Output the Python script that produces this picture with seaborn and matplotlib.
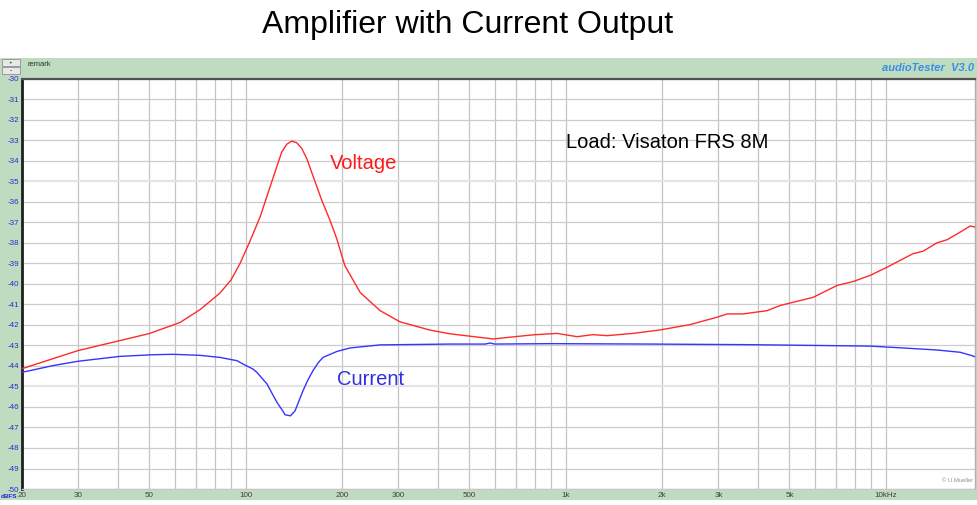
import numpy as np
import pandas as pd
import matplotlib
matplotlib.use("Agg")
import matplotlib.pyplot as plt
from matplotlib.patches import Rectangle
import seaborn as sns

# ---- data ----
volt_freq = [20, 29.9, 49.9, 62.3, 72, 83, 90, 96, 103.2, 110.9, 119.1, 125, 129.6, 134.4, 139.3,
             144.4, 149.7, 155.2, 162.7, 172.9, 183.4, 192.5, 204, 228, 263, 304, 377, 435,
             593, 790, 939, 1085, 1217, 1346, 1622,
             1972, 2447, 2972, 3194, 3582, 4257, 4674, 5930, 7046, 7906, 8934, 10094,
             12168, 13084, 14456, 15552, 17078, 18351, 19012]
volt_db = [-44.13, -43.25, -42.42, -41.88, -41.25, -40.45, -39.8, -39.0, -37.9, -36.73, -35.27,
           -34.29, -33.56, -33.18, -33.03, -33.11, -33.39, -33.88, -34.78, -35.92, -36.89,
           -37.79, -39.10, -40.42, -41.30, -41.85, -42.25, -42.43,
           -42.68, -42.48, -42.41, -42.57, -42.47, -42.52, -42.41, -42.24,
           -41.98, -41.62, -41.46, -41.46, -41.30, -41.05, -40.65, -40.07, -39.88, -39.58,
           -39.18, -38.52, -38.40, -37.99, -37.84, -37.47, -37.17, -37.22]

curr_freq = [20, 25, 29.9, 40.5, 51.3, 59.3, 72, 83, 93.9, 98, 105.4, 108.4, 116.6, 121,
             125.3, 129.9, 132.7, 138, 142.6, 151, 156, 162.2, 168.5, 174.4, 192.8, 211.8,
             263, 435, 560, 580, 600, 893, 1834, 3768, 6235, 8934, 11326, 14456, 17078,
             18613, 19012]
curr_db = [-44.31, -43.98, -43.77, -43.53, -43.45, -43.43, -43.48, -43.58, -43.74, -43.90,
           -44.15, -44.31, -44.88, -45.35, -45.78, -46.14, -46.38, -46.43, -46.19, -45.21,
           -44.72, -44.23, -43.84, -43.58, -43.29, -43.12,
           -42.97, -42.93, -42.93, -42.88, -42.93, -42.91, -42.93, -42.96, -43.00, -43.03,
           -43.12, -43.22, -43.33, -43.50, -43.55]

ytick_vals = list(range(-30, -51, -1))
xtick_vals = [20, 30, 50, 100, 200, 300, 500, 1000, 2000, 3000, 5000, 10000]
xtick_labels = ["20", "30", "50", "100", "200", "300", "500", "1k", "2k", "3k", "5k", "10kHz"]

sns.set_theme(style="white")
plt.rcParams['font.family'] = ['Liberation Sans', 'DejaVu Sans']

W, H = 978, 505
fig = plt.figure(figsize=(W / 100, H / 100), dpi=100)

# green frame of the audioTester window (behind the axes)
fig.patches.append(Rectangle((0, 1 - 500 / H), 1, (500 - 58) / H, transform=fig.transFigure,
                             facecolor='#c0dcc0', edgecolor='none', zorder=-5))
# small spin widget top-left
for y0 in (59, 67):
    fig.patches.append(Rectangle((2 / W, 1 - (y0 + 7) / H), 18 / W, 7 / H, transform=fig.transFigure,
                                 facecolor='#e8e8e8', edgecolor='#909090', lw=0.6, zorder=-4))
fig.text(11 / W, 1 - 62.5 / H, "+", fontsize=4.5, ha='center', va='center', color='#303030')
fig.text(11 / W, 1 - 70.5 / H, "-", fontsize=5, ha='center', va='center', color='#303030')
fig.text(28 / W, 1 - 64 / H, "remark", fontsize=5.5, ha='left', va='center', color='#303030')
fig.text(974 / W, 1 - 68 / H, "audioTester  V3.0", fontsize=8, ha='right', va='center',
         color='#3a8ee8', style='italic', weight='bold')

ax = fig.add_axes([22 / W, 1 - 489 / H, (975 - 22) / W, (489 - 79) / H])
ax.set_zorder(2)
ax.set_facecolor('white')

df_v = pd.DataFrame({"freq": volt_freq, "db": volt_db})
df_c = pd.DataFrame({"freq": curr_freq, "db": curr_db})
sns.lineplot(data=df_v, x="freq", y="db", ax=ax, color='#ff2a2a', lw=1.0, zorder=3)
sns.lineplot(data=df_c, x="freq", y="db", ax=ax, color='#3535ff', lw=1.0, zorder=3)

ax.set_xscale('log')
ax.set_xlim(20, 19000)
ax.set_ylim(-50, -30)

# grid
vlines = []
for dec in (10, 100, 1000, 10000):
    for m in range(1, 10):
        f = dec * m
        if 20 <= f <= 19000:
            vlines.append(f)
for f in vlines:
    ax.axvline(f, color='#c4c4c4', lw=0.9, zorder=1)
for yv in ytick_vals:
    if yv in (-35, -45):
        ax.axhline(yv, color='#e4e4e4', lw=1.6, zorder=1)
    else:
        ax.axhline(yv, color='#cccccc', lw=0.9, zorder=1)

ax.set_yticks(ytick_vals)
ax.set_yticklabels([str(v) for v in ytick_vals])
ax.set_xticks(xtick_vals)
ax.set_xticklabels(xtick_labels)
ax.minorticks_off()
ax.tick_params(axis='y', length=0, pad=2.2, labelsize=5.8, labelcolor='#2a2ad0')
ax.tick_params(axis='x', length=0, pad=2.5, labelsize=5.8, labelcolor='#404040')
ax.set_xlabel("")
ax.set_ylabel("")

for side, sp in ax.spines.items():
    sp.set_visible(True)
ax.spines['left'].set_color('#202020')
ax.spines['left'].set_linewidth(2.0)
ax.spines['top'].set_color('#505050')
ax.spines['top'].set_linewidth(1.6)
ax.spines['bottom'].set_color('#c8c8c8')
ax.spines['bottom'].set_linewidth(1.0)
ax.spines['right'].set_color('#b0b0b0')
ax.spines['right'].set_linewidth(1.0)

ax.text(0.3232, 0.795, "Voltage", transform=ax.transAxes, color='#ff1a1a', fontsize=14.5,
        ha='left', va='center')
ax.text(0.3305, 0.266, "Current", transform=ax.transAxes, color='#3030e0', fontsize=14.5,
        ha='left', va='center')
ax.text(0.571, 0.844, "Load: Visaton FRS 8M", transform=ax.transAxes, color='black', fontsize=14.5,
        ha='left', va='center')
ax.text(0.998, 0.02, "© U.Mueller", transform=ax.transAxes, color='#909090', fontsize=4.2,
        ha='right', va='center')

fig.text(0.5 / W, 1 - 496 / H, "dBFS", fontsize=4.6, ha='left', va='center', color='#2020e0',
         weight='bold')
fig.text(467.5 / W, 1 - 25 / H, "Amplifier with Current Output", fontsize=23, ha='center',
         va='center', color='black')

fig.savefig("out.png", dpi=100)
